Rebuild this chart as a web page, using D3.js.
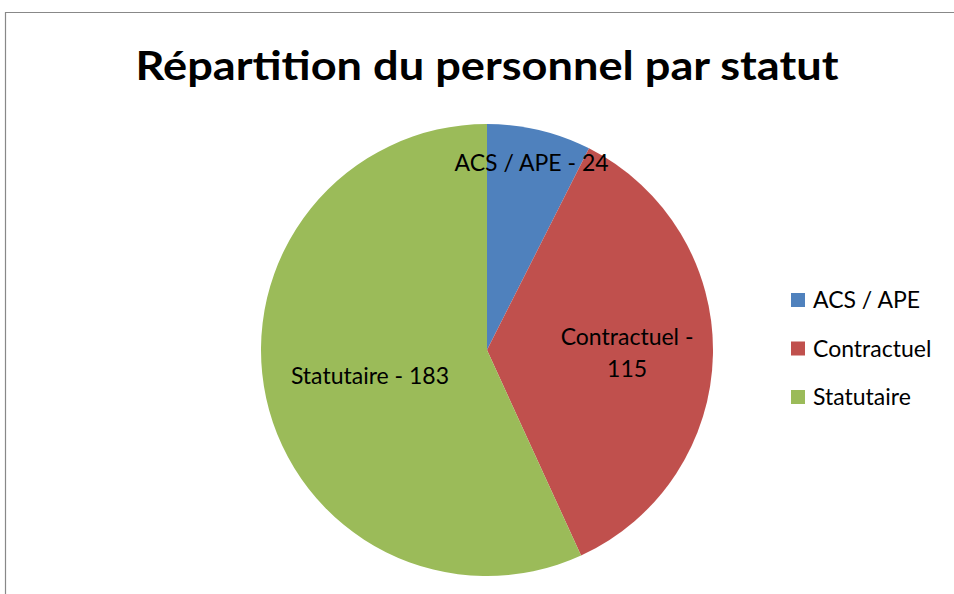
<!DOCTYPE html>
<html><head><meta charset="utf-8">
<script src="https://cdn.jsdelivr.net/npm/d3@7"></script>
<style>body{margin:0;background:#fff}svg{display:block}</style>
</head><body>
<script>
const categories = ["ACS / APE", "Contractuel", "Statutaire"];
const values = [24, 115, 183];
const colors = ["#4F81BD", "#C0504D", "#9BBB59"];
const title = "Répartition du personnel par statut";

const W = 954, H = 594;
const svg = d3.select("body").append("svg").attr("width", W).attr("height", H);
const font = "Lato, 'Open Sans', sans-serif";

// chart border
svg.append("path").attr("d", `M5.5,${H} V12.5 H${W}`).attr("fill","none").attr("stroke","#888").attr("stroke-width",1.2);

const t = svg.append("text").attr("x", 487).attr("y", 80).attr("text-anchor","middle")
  .attr("font-family", font).attr("font-weight","bold").attr("font-size", 40).attr("fill","#000").text(title);
t.attr("textLength", 703).attr("lengthAdjust","spacingAndGlyphs");

const cx = 487, cy = 350, r = 226;
const data = categories.map((c,i)=>({cat:c, value:values[i], color:colors[i]}));
const pie = d3.pie().value(d=>d.value).sort(null);
const arcs = pie(data);
const arc = d3.arc().innerRadius(0).outerRadius(r);
const g = svg.append("g").attr("transform",`translate(${cx},${cy})`);
g.selectAll("path").data(arcs).join("path").attr("d", arc).attr("fill", d=>d.data.color);

const fs = 23;
const labelCfg = [
  {lines:["ACS / APE - 24"], k:0.85},
  {lines:["Contractuel -","115"], k:0.62},
  {lines:["Statutaire - 183"], k:0.53}
];
arcs.forEach((a,i)=>{
  const cfg = labelCfg[i];
  const la = d3.arc().innerRadius(r*cfg.k).outerRadius(r*cfg.k);
  const [x,y] = la.centroid(a);
  const tx = g.append("text").attr("text-anchor","middle").attr("font-family",font).attr("font-size",fs).attr("fill","#000");
  const n = cfg.lines.length;
  cfg.lines.forEach((l,j)=>{
    tx.append("tspan").attr("x",x).attr("y", y + (j - (n-1)/2)*32 + 8).text(l);
  });
});

// legend
const lg = svg.append("g").attr("transform","translate(791,293)");
data.forEach((d,i)=>{
  const row = lg.append("g").attr("transform",`translate(0,${i*48.5})`);
  row.append("rect").attr("width",14).attr("height",14).attr("fill",d.color);
  row.append("text").attr("x",22).attr("y",15).attr("font-family",font).attr("font-size",fs).attr("fill","#000").text(d.cat);
});
</script>
</body></html>
